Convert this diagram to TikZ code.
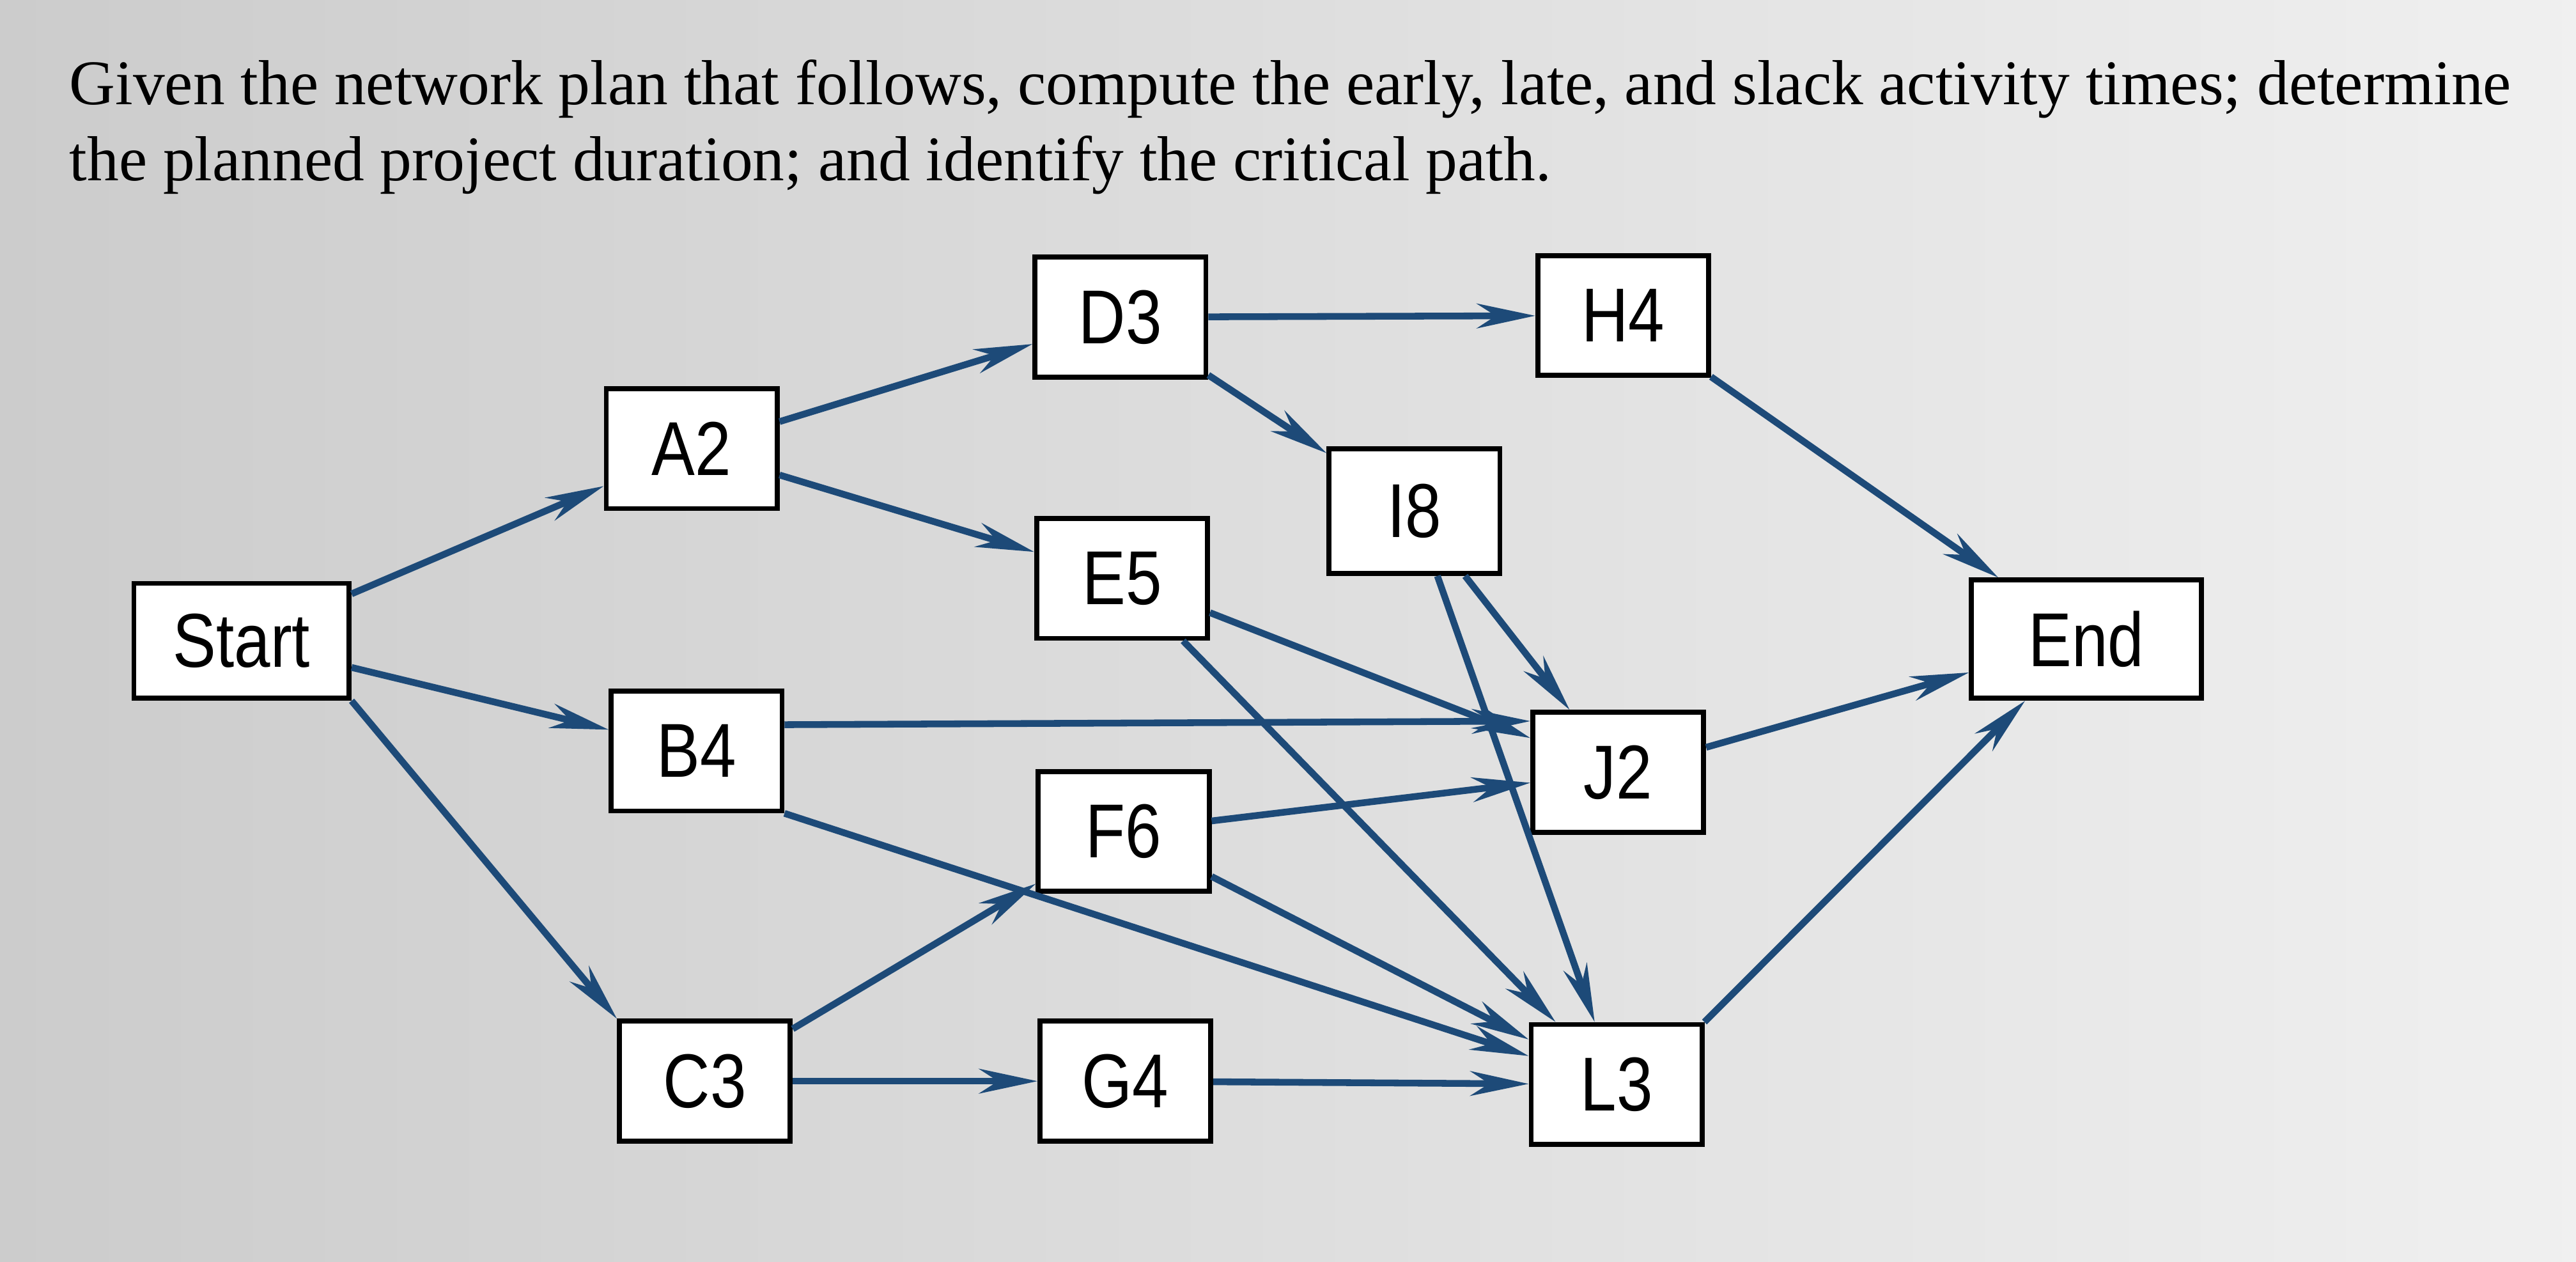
\documentclass[tikz,border=0pt]{standalone}
\usepackage{fontspec}
\setmainfont{Liberation Serif}
\newfontfamily\boxfont[FakeStretch=0.85]{Liberation Sans}
\usetikzlibrary{arrows.meta}
\definecolor{navy}{HTML}{1D4A78}
\begin{document}
\begin{tikzpicture}[x=0.0257cm,y=-0.0257cm,
  box/.style={draw=black,line width=2.2pt,fill=white,inner sep=0pt,font=\boxfont\fontsize{34}{36}\selectfont},
  con/.style={draw=navy,line width=3pt,-{Stealth[length=26pt,width=11pt]}}]
\shade[left color=gray!40,right color=gray!12] (0,0) rectangle (1568,768);
\useasboundingbox (0,0) rectangle (1568,768);
\node[anchor=north west,align=left,font=\fontsize{28.3}{34}\selectfont,inner sep=0pt] (title) at (42,36)
 {Given the network plan that follows, compute the early, late, and slack activity times; determine\\the planned project duration; and identify the critical path.};
\node[box,minimum width=131*0.0257cm,minimum height=70*0.0257cm] (S) at (147,390) {Start};
\node[box,minimum width=104*0.0257cm,minimum height=73*0.0257cm] (A) at (421,273) {A2};
\node[box,minimum width=104*0.0257cm,minimum height=73*0.0257cm] (B) at (424,457) {B4};
\node[box,minimum width=104*0.0257cm,minimum height=73*0.0257cm] (C) at (429,658) {C3};
\node[box,minimum width=104*0.0257cm,minimum height=73*0.0257cm] (D) at (682,193) {D3};
\node[box,minimum width=104*0.0257cm,minimum height=73*0.0257cm] (E) at (683,352) {E5};
\node[box,minimum width=104*0.0257cm,minimum height=73*0.0257cm] (F) at (684,506) {F6};
\node[box,minimum width=104*0.0257cm,minimum height=73*0.0257cm] (G) at (685,658) {G4};
\node[box,minimum width=104*0.0257cm,minimum height=73*0.0257cm] (H) at (988,192) {H4};
\node[box,minimum width=104*0.0257cm,minimum height=76*0.0257cm] (I) at (861,311) {I8};
\node[box,minimum width=104*0.0257cm,minimum height=73*0.0257cm] (J) at (985,470) {J2};
\node[box,minimum width=104*0.0257cm,minimum height=73*0.0257cm] (L) at (984,660) {L3};
\node[box,minimum width=140*0.0257cm,minimum height=72*0.0257cm] (End) at (1270,389) {End};
\draw[con] (S) -- (A);
\draw[con] (S) -- (B);
\draw[con] (S.south east) -- (C.north west);
\draw[con] (A) -- (D);
\draw[con] (A) -- (E);
\draw[con] (D) -- (H);
\draw[con] (D) -- (I);
\draw[con] ([yshift=0.41cm]B.east) -- ([yshift=0.8cm]J.west);
\draw[con] (B.south east) -- (L);
\draw[con] (C) -- (F);
\draw[con] (C) -- (G);
\draw[con] (E) -- (J);
\draw[con] (E) -- (L);
\draw[con] (F) -- (J);
\draw[con] (F) -- (L);
\draw[con] (I) -- (J);
\draw[con] (I) -- (L);
\draw[con] (G) -- (L);
\draw[con] (H) -- (End);
\draw[con] (J) -- (End);
\draw[con] (L.north east) -- (End);
\end{tikzpicture}
\end{document}
